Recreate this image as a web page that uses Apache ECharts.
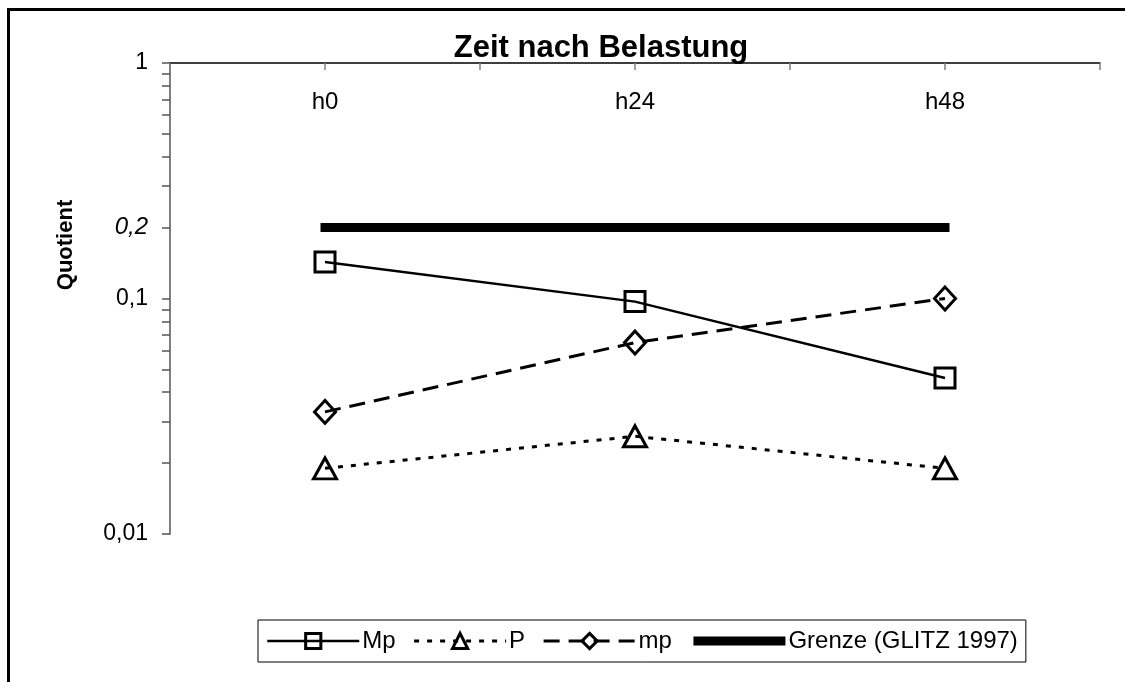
<!DOCTYPE html>
<html>
<head>
<meta charset="utf-8">
<script src="https://cdn.jsdelivr.net/npm/echarts@6/dist/echarts.min.js"></script>
<style>
  html, body { margin: 0; padding: 0; background: #fff; }
  #chart { width: 1125px; height: 682px; }
</style>
</head>
<body>
<div id="chart"></div>
<script>
// Sampling times after loading
const categories = ['h0', 'h24', 'h48'];

// Quotient values per series
const valuesMpUpper = [0.143, 0.097, 0.046];   // Mp
const valuesP = [0.019, 0.026, 0.019];         // P
const valuesMpLower = [0.033, 0.065, 0.1];     // mp
const valuesLimit = [0.2, 0.2, 0.2];           // Grenze (GLITZ 1997)

// Log-axis tick positions and the ones that carry a label
const yTickValues = [
  0.01, 0.02, 0.03, 0.04, 0.05, 0.06, 0.07, 0.08, 0.09,
  0.1, 0.2, 0.3, 0.4, 0.5, 0.6, 0.7, 0.8, 0.9, 1
];
const yLabelValues = [0.01, 0.1, 0.2, 1];

const FONT = 'Liberation Sans, Arial, Helvetica, sans-serif';

const chart = echarts.init(document.getElementById('chart'), null, { renderer: 'canvas' });

const hollow = {
  color: 'rgba(0,0,0,0)',
  borderColor: '#000',
  borderWidth: 3
};

chart.setOption({
  animation: false,
  backgroundColor: '#fff',
  grid: { left: 170, right: 25, top: 63, bottom: 148, containLabel: false },
  xAxis: [
    {
      type: 'category',
      position: 'top',
      data: categories,
      boundaryGap: true,
      axisLine: { show: true, onZero: false, lineStyle: { color: '#000', width: 1.5 } },
      axisTick: { show: true, inside: true, length: 7, lineStyle: { color: '#808080', width: 1.5 } },
      axisLabel: { inside: true, margin: 27, fontSize: 24, fontFamily: FONT, color: '#000' },
      splitLine: { show: false }
    },
    {
      type: 'category',
      position: 'top',
      offset: 0,
      data: categories,
      boundaryGap: true,
      axisLine: { show: false },
      axisTick: { show: true, inside: true, alignWithLabel: true, length: 7, lineStyle: { color: '#808080', width: 1.5 } },
      axisLabel: { show: false },
      splitLine: { show: false }
    }
  ],
  yAxis: {
    type: 'log',
    logBase: 10,
    min: 0.01,
    max: 1,
    axisLine: { show: true, lineStyle: { color: '#808080', width: 2 } },
    axisTick: {
      show: true,
      inside: false,
      length: 8,
      customValues: yTickValues,
      lineStyle: { color: '#555', width: 1.5 }
    },
    axisLabel: {
      customValues: yLabelValues,
      margin: 22,
      fontSize: 23,
      fontFamily: FONT,
      color: '#000',
      formatter: function (v) {
        const s = String(+Number(v).toPrecision(6)).replace('.', ',');
        if (Math.abs(v - 0.2) < 1e-9) return '{it|' + s + '}';
        return s;
      },
      rich: {
        it: { fontStyle: 'italic', fontSize: 24, fontFamily: FONT, color: '#000' }
      }
    },
    splitLine: { show: false },
    minorTick: { show: false }
  },
  legend: {
    left: 258,
    top: 620,
    orient: 'horizontal',
    padding: [9, 8],
    itemGap: 17,
    itemWidth: 92,
    itemHeight: 19,
    borderColor: '#000',
    borderWidth: 1,
    backgroundColor: '#fff',
    selectedMode: false,
    textStyle: { fontSize: 24, fontFamily: FONT, color: '#000', padding: [0, 0, 0, -2] },
    data: [
      { name: 'Mp', lineStyle: { width: 2.5 }, itemStyle: { borderWidth: 3 } },
      { name: 'P', lineStyle: { width: 3 }, itemStyle: { borderWidth: 3 } },
      { name: 'mp', lineStyle: { width: 3 }, itemStyle: { borderWidth: 3 } },
      {
        name: 'Grenze (GLITZ 1997)',
        lineStyle: { width: 9, cap: 'butt' },
        itemStyle: { color: 'rgba(0,0,0,0)', borderWidth: 0 }
      }
    ]
  },
  series: [
    {
      name: 'Grenze (GLITZ 1997)',
      type: 'line',
      data: valuesLimit,
      symbol: 'none',
      lineStyle: { color: '#000', width: 9, cap: 'square' },
      itemStyle: { color: '#000' },
      emphasis: { disabled: true },
      z: 2
    },
    {
      name: 'Mp',
      type: 'line',
      data: valuesMpUpper,
      symbol: 'rect',
      symbolSize: 20,
      lineStyle: { color: '#000', width: 2.5, type: 'solid' },
      itemStyle: hollow,
      emphasis: { disabled: true },
      z: 3
    },
    {
      name: 'P',
      type: 'line',
      data: valuesP,
      symbol: 'triangle',
      symbolSize: [23, 21],
      lineStyle: { color: '#000', width: 3, type: [5, 8] },
      itemStyle: hollow,
      emphasis: { disabled: true },
      z: 3
    },
    {
      name: 'mp',
      type: 'line',
      data: valuesMpLower,
      symbol: 'diamond',
      symbolSize: [21, 23],
      lineStyle: { color: '#000', width: 3, type: [16, 9] },
      itemStyle: hollow,
      emphasis: { disabled: true },
      z: 3
    }
  ],
  graphic: [
    {
      type: 'polyline',
      silent: true,
      shape: { points: [[8.5, 682], [8.5, 9.5], [1125, 9.5]] },
      style: { stroke: '#000', lineWidth: 3, fill: null }
    },
    {
      type: 'text',
      silent: true,
      x: 601,
      y: 48,
      style: {
        text: 'Zeit nach Belastung',
        font: 'bold 31px ' + FONT,
        fill: '#000',
        align: 'center',
        verticalAlign: 'middle'
      }
    },
    {
      type: 'text',
      silent: true,
      x: 66,
      y: 245,
      rotation: Math.PI / 2,
      style: {
        text: 'Quotient',
        font: 'bold 22px ' + FONT,
        fill: '#000',
        align: 'center',
        verticalAlign: 'middle'
      }
    }
  ]
});
</script>
</body>
</html>
